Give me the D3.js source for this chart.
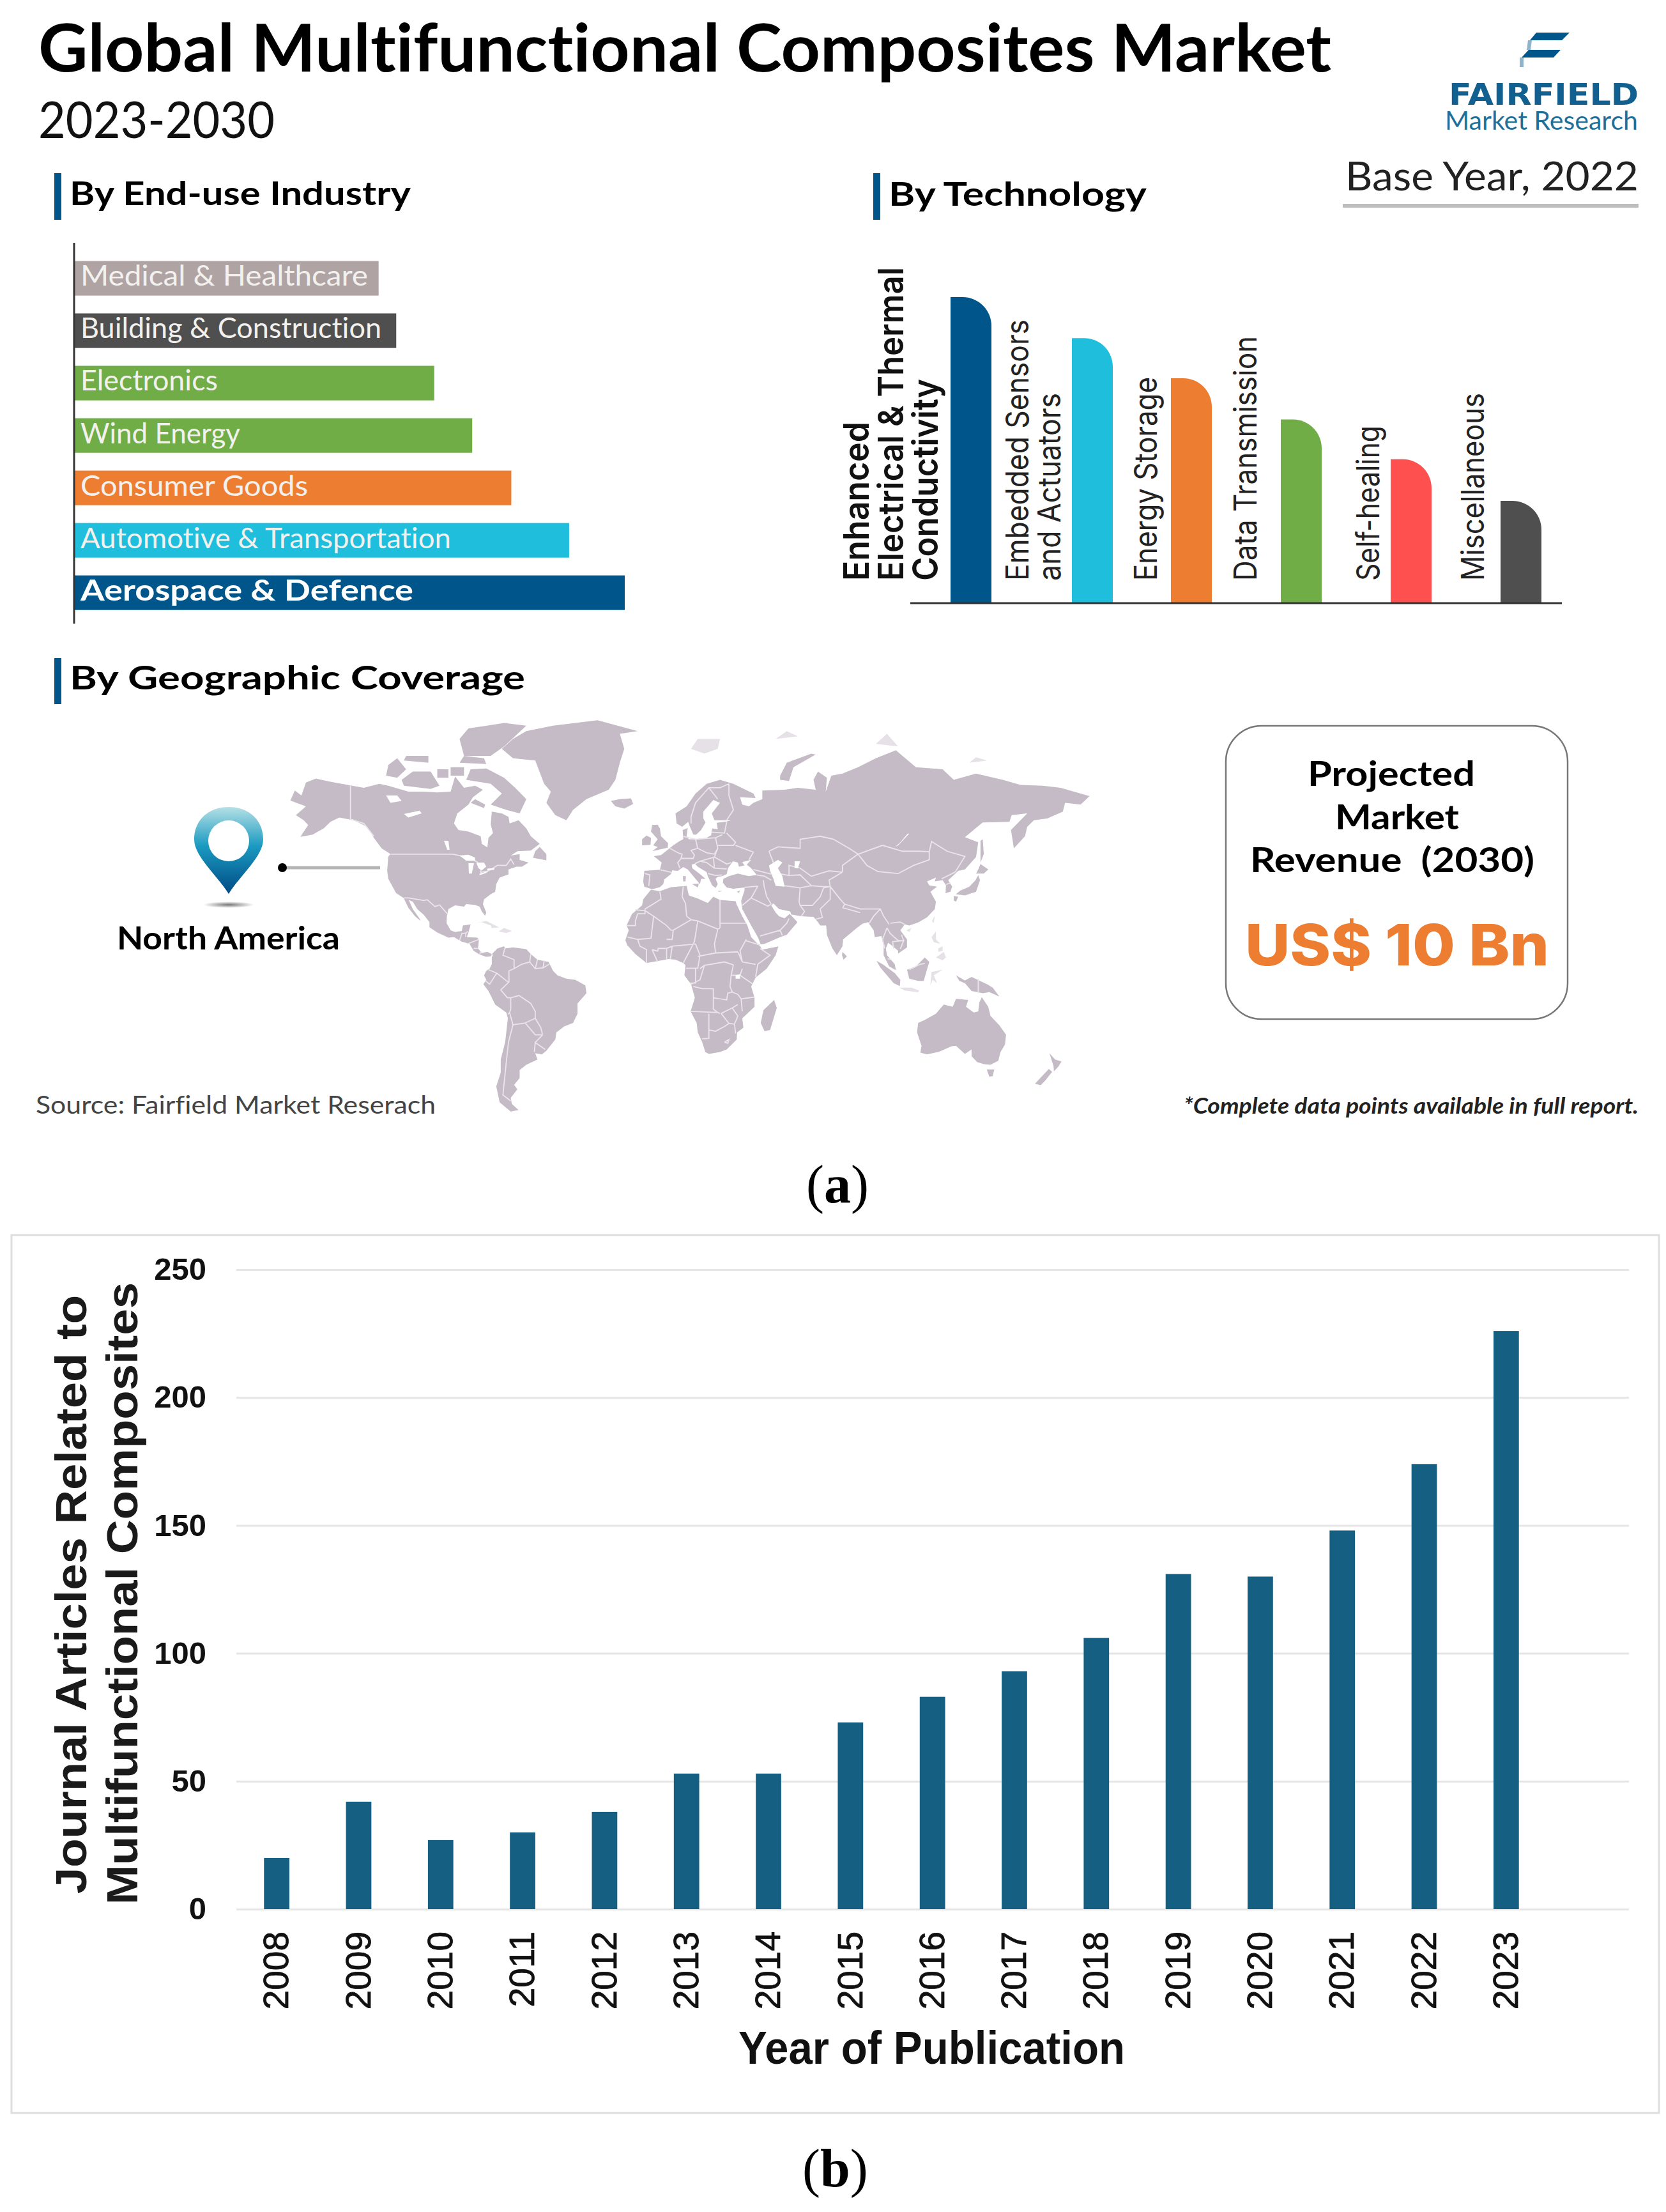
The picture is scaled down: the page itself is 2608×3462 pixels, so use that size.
<!DOCTYPE html>
<html><head><meta charset="utf-8"><title>Multifunctional composites</title>
<script src="https://cdn.jsdelivr.net/npm/d3@7/dist/d3.min.js"></script>
<style>html,body{margin:0;padding:0;background:#fff}svg{display:block}text{font-variant-ligatures:none;font-feature-settings:"liga" 0}</style></head>
<body><svg id="c" width="2608" height="3462"></svg>
<script>
// ---------- data ----------
const endUseIndustries = ["Medical & Healthcare","Building & Construction","Electronics","Wind Energy","Consumer Goods","Automotive & Transportation","Aerospace & Defence"];
const endUseValues = [55.3,58.5,65.4,72.3,79.4,89.9,100];
const endUseColors = ["#b0a3a3","#4f4f4f","#70ad47","#70ad47","#ed7d31","#1fbedc","#00558a"];
const technologies = ["Enhanced Electrical & Thermal Conductivity","Embedded Sensors and Actuators","Energy Storage","Data Transmission","Self-healing","Miscellaneous"];
const technologyLines = [["Enhanced","Electrical & Thermal","Conductivity"],["Embedded Sensors","and Actuators"],["Energy Storage"],["Data Transmission"],["Self-healing"],["Miscellaneous"]];
const technologyValues = [100,86.6,73.5,60,47,33.4];
const technologyColors = ["#00558a","#1fbedc","#ed7d31","#70ad47","#ff5050","#4f4f4f"];
const years = ["2008","2009","2010","2011","2012","2013","2014","2015","2016","2017","2018","2019","2020","2021","2022","2023"];
const articleCounts = [20,42,27,30,38,53,53,73,83,93,106,131,130,148,174,226];
const yTicks = [0,50,100,150,200,250];

// map outlines in [longitude, latitude]
const landNorthAmerica = [[-168,65.6],[-166,68.3],[-163,67],[-161,70.3],[-156.5,71.3],[-150,70.5],[-141,69.6],[-135,69],[-128,70],[-124,69.5],[-115,68],[-108,68],[-102,67.8],[-96,68],[-94,71.8],[-90,69],[-85,69.5],[-81.5,68.5],[-86,66.5],[-88,64.5],[-93,62],[-94.5,59],[-92.5,57],[-88,56.5],[-82.5,55],[-82,52.5],[-79.5,51.3],[-79,54.5],[-77,56],[-78,58.7],[-77.5,62.5],[-73,62],[-70,61],[-69.5,59],[-65.5,60],[-62,57.5],[-60,55],[-56,52.5],[-60,50.2],[-66,50],[-69,48.5],[-65,49],[-65,47],[-61,46],[-64,44.5],[-66.5,44.5],[-70,43.5],[-70,41.7],[-74,40.5],[-75.5,38],[-76,35],[-78,34],[-81,32],[-81.5,30],[-80,26.5],[-80.5,25.2],[-82,27],[-83,29],[-85,29.7],[-89,30],[-90,29],[-94,29.5],[-97,28],[-97.7,25],[-97.8,22],[-96,19],[-94,18.2],[-91,18.7],[-90.5,21],[-87,21.5],[-88,18],[-88.7,16],[-84,15.8],[-83.3,14.8],[-83.7,11],[-82,9],[-79.5,9.5],[-77.5,8.5],[-78,7.5],[-80,7.3],[-83,8.3],[-85.7,10],[-87.5,13],[-91,14],[-94.5,16],[-97,15.8],[-102,18],[-105.5,20.3],[-105.5,22.5],[-108,25.5],[-111,28],[-113,31],[-114.8,31.7],[-113,28],[-110,24],[-109.5,23],[-112,25],[-115,28.5],[-117.1,32.5],[-120.5,34.5],[-124,40],[-124.5,43],[-124,48.2],[-123,49],[-127,51],[-130.5,54.5],[-133.5,58],[-139.5,60],[-146,60.8],[-150,59.5],[-153,57.5],[-158,55.5],[-163.5,54.8],[-160,58.5],[-162,60],[-165.5,61.5],[-161,64],[-168,65.6]];
const landSouthAmerica = [[-77.5,8.5],[-75,11],[-72,12],[-71.5,11],[-68,11.5],[-62,10.7],[-60,8.5],[-57,6],[-52,5],[-50,1],[-48,-1],[-44,-2.5],[-40,-3],[-35.5,-5.5],[-35,-9],[-39,-13.5],[-39,-18],[-41,-22],[-45,-23.5],[-48.5,-26],[-49,-29],[-53,-33.5],[-55,-35],[-58,-34.5],[-57,-37],[-62,-39],[-65,-41],[-65,-44],[-67.5,-46.5],[-66,-48],[-69,-51],[-68.5,-53],[-65.5,-55],[-69,-55.5],[-74,-52.5],[-75.5,-47],[-73.5,-42],[-73.5,-37],[-71.5,-30],[-70.3,-20],[-71,-17.5],[-76,-14],[-79,-8],[-81.3,-5],[-80,-3],[-81,-1],[-80,1],[-78.5,2],[-77.5,4],[-77.5,7]];
const landAfrica = [[-6,35.8],[-2,35.2],[3,36.8],[10,37.3],[11,33.5],[15,32.3],[19.5,30.5],[22,33],[25,31.7],[32,31.2],[32.5,29.8],[35,25],[37.3,21],[39,16],[43,12],[44,10.5],[51.2,11.9],[50,8],[46,2],[41,-2],[39,-6],[40.5,-11],[40.5,-15],[35,-20],[35.5,-24],[32.7,-26],[32.5,-29],[28,-33],[25,-34],[20,-34.8],[18.4,-34],[17,-30],[15,-26],[14.5,-22],[11.8,-17],[13.7,-11],[12,-5],[9,-1],[9.5,3.5],[8.5,4.5],[5,6],[2,6.3],[-4,5.2],[-8,4.5],[-13,8.5],[-16.7,12.5],[-17.5,14.7],[-16,19],[-17,21],[-14.5,26],[-10,29.5],[-9.5,32]];
const landEurasia = [[-5.5,36],[-9,37],[-9.5,39],[-9,43],[-2,43.4],[-1.2,46],[-4.7,48.3],[-1.5,48.7],[1.5,50.5],[4,52],[7,53.5],[8.5,54],[8.2,57],[10.5,57.6],[10,55],[11,54],[14,54],[19,54.5],[21,55.3],[21.5,57.5],[24,57.2],[23.5,59.2],[28,59.6],[30,60],[25,60],[22.5,60],[21.3,62],[25,65],[22,65.8],[17.5,62.5],[17.5,60.5],[18.5,59.3],[16.5,57],[14.3,55.5],[13,55.5],[11.5,58],[10.7,59.5],[8,58],[5.5,59],[5,62],[10,64],[14,67.5],[19,70],[25,71],[31,70],[40,67.5],[41,66.3],[34,66.5],[35,64.5],[38,64],[40,65],[44,66],[44,68.3],[54,68.5],[60,69],[68,68.5],[67,71],[69,73],[73,71.5],[72.5,68],[75,72],[80,72.5],[87,74],[95,76],[104,77.7],[113,74],[125,73.5],[130,71],[140,72.5],[152,71],[160,69.7],[170,69.5],[178,69],[191,66.8],[187,64.5],[180,65],[179,62.5],[172,60.5],[166,60],[163,58],[162,55],[157,51],[155.7,57],[163,62],[156,61.5],[155,59.5],[143,59.3],[135,54.7],[141,53],[140,48],[135,43.5],[132,43],[129.5,41],[127.5,39.5],[129.3,37],[128.5,35],[126.3,34.5],[126.5,37.5],[125,39.5],[121.5,39],[122,40.5],[118,39],[119,37.5],[122.5,37],[119.5,35],[122,31],[121.5,28],[118,24.5],[114,22.3],[110,21],[108,21.5],[106,19],[109,15],[109,11.5],[105,8.7],[105,10],[102,12.5],[100.5,13.5],[99.5,11],[100,8],[103.5,4],[104,1.3],[101,3],[98.5,8],[98.5,12],[97.5,16.5],[94.5,16],[94,19],[91.5,22.5],[89,21.8],[86.5,20],[80.3,15],[80,12],[77.5,8],[75.5,11],[73,17],[72.7,21],[70,21],[69,22.5],[67,24.7],[61.5,25],[57,25.7],[56.5,27],[51.5,28],[49,30.3],[48,29.5],[50,26.5],[51.5,25],[54,24.1],[56.3,26],[59.8,22.5],[55,17],[52,16],[45,13],[43.3,12.8],[42,16],[39,21],[35,28],[34.5,31.3],[36,35.5],[36,36.7],[31,36.2],[28,36.7],[26.3,38.5],[26.5,40],[29,41],[33,42],[38,41],[41.5,41.5],[39,44],[37,45.3],[39,47],[35,46.2],[36,45],[33.5,44.5],[33,46],[30.8,46.5],[28.6,44],[28,41.8],[26,41],[24,40.8],[23,40],[24,38],[23,36.5],[21.5,37.5],[19.5,41],[19,42.5],[15,44.5],[13.7,45.6],[12.3,45.3],[12.5,44],[16,41.8],[18.5,40],[16.5,40],[16,38],[12.5,41.5],[10.5,43.5],[8.5,44.4],[6,43],[3.5,43.2],[3,41.8],[0,39.8],[-0.5,38],[-2,36.8]];
const landAustralia = [[114,-22],[113.5,-26],[115.5,-31.5],[115,-34.3],[118,-35],[123.5,-33.9],[129,-31.7],[131,-31.5],[135,-34.8],[138,-33],[138,-35.7],[140.5,-38],[143.5,-38.8],[146.5,-39],[150,-37.5],[151,-34],[153,-31],[153.5,-27],[150.5,-23],[146.5,-19],[145.5,-15],[142.6,-10.8],[141.5,-13],[141,-17],[139,-17.5],[135.5,-15],[136.5,-12],[131,-11.5],[129.5,-15],[125.5,-14],[122,-18],[117,-20.7]];
const landGreenland = [[-73,78],[-68,76],[-58,75.5],[-54,70],[-51,68],[-53,65],[-49,61.5],[-44,60],[-41,63],[-35,66],[-25,68.5],[-22,71],[-20,75],[-18,78],[-20,81],[-12,81.5],[-30,83.5],[-50,82.5],[-62,81.5],[-68,80]];
const landIslands = [
 [[-62,66],[-65,62],[-71,63],[-78,64.5],[-73,67.5],[-78,70],[-89,71],[-87,73.5],[-80,73.7],[-72,71.5],[-67,69]],
 [[-117,69.5],[-105,68.7],[-101,69.5],[-105,73],[-113,73],[-118,71]],
 [[-125,72],[-120,71.5],[-116,73.5],[-120,76],[-124,74.5]],
 [[-90,76.5],[-78,76.5],[-72,78.5],[-62,82.5],[-72,83],[-88,82],[-92,80]],
 [[-92,75],[-80,74.7],[-81,76],[-90,76.5]],
 [[-117,75.5],[-106,75],[-106,76.5],[-116,76.5]],
 [[-96,72],[-90,72],[-90,74],[-96,74]],
 [[-102,71.5],[-97,71.5],[-97,73.5],[-102,73.5]],
 [[-87,65],[-81,63.5],[-80.5,64.5],[-85,66]],
 [[-59,47.7],[-53,46.8],[-53,49],[-56,51.5],[-58,50]],
 [[49.3,-12],[50.5,-15.5],[47.5,-25],[45,-25.5],[43.3,-22],[44.5,-16.5]],
 [[-5.5,50],[1.5,51.2],[1.7,52.7],[-1.5,55],[-2,57.5],[-3,58.6],[-5.5,58.5],[-6,56.5],[-3,54],[-5,52],[-3,51.4]],
 [[-10,52],[-6.2,52.2],[-6,54.5],[-8,55.2],[-10,54]],
 [[-24,65.5],[-22,64],[-18,63.4],[-14,64.7],[-15,66.2],[-20,66]],
 [[52,71],[56,70.7],[58,74],[68,76.8],[66,77],[55,75],[52,72]],
 [[142,46],[143.5,49],[143,54],[142,53.5],[142,49]],
 [[130.9,34],[135,33.5],[140,35],[141.8,39.5],[141,41.4],[139.8,39.5],[137,37],[133,35.5]],
 [[140,42],[143.5,42],[145.5,43.5],[142,45.5],[141,43.5]],
 [[130,33.3],[132,33],[131,31],[130,31.5]],
 [[80,9.5],[82,7.5],[80.5,6],[79.8,8]],
 [[95.3,5.5],[98,4],[103.5,0],[106,-3],[105.8,-5.8],[103,-4.5],[100,-1],[97,2.5]],
 [[109,1.5],[113,3],[117,7],[119,5],[117.8,1],[116.5,-3.5],[114,-3.5],[110,-2.5]],
 [[131,-1],[135,-3.3],[138,-1.7],[145,-5],[147.5,-6.5],[150.5,-10.5],[146,-8.5],[143,-9],[138,-8],[135,-4.5],[132.5,-3.5]],
 [[144.8,-40.8],[148.2,-40.8],[147.5,-43.3],[146,-43.5]],
 [[173,-34.5],[175.5,-37],[178.4,-37.7],[177,-39.7],[175,-41.5],[174.8,-39.5]],
 [[172.7,-40.6],[174.2,-41.7],[171,-45],[169,-46.6],[166.5,-46],[170,-43]],
 [[12.5,38],[15.5,38.2],[15,36.7]],[[8.3,41],[9.7,41],[9.5,39],[8.5,39]],[[24,35.4],[26,35.2],[24.5,35]],[[32.5,35],[34,35.4],[33.5,34.6]]
];
// islands that the reference shows only as a faint trace
const faintIslands = [
 [[-85,22],[-80,23],[-74.2,20.2],[-77.5,19.9],[-78,21],[-82,22.5]],
 [[-74.4,18.5],[-72,20],[-68.4,18.6],[-71,17.8]],
 [[12,78],[18,77],[24,78],[25,80],[15,80]],
 [[95,79],[105,78.5],[100,81]],[[137,75],[145,75.5],[140,76.2]],[[50,80],[60,80.5],[55,81.5]],
 [[120.2,23],[121.5,25.2],[121,22]],[[108.7,19],[111,20],[110,18.2]],
 [[120,16],[122,18.5],[122,15],[124,13],[121,13.8]],[[122,7],[125.5,9.5],[126.5,7],[125,5.7]],[[123,11],[125,12],[125,10],[123,9.5]],
 [[105.5,-6.5],[111,-6.5],[114.5,-7.8],[114,-8.6],[108,-7.8]],
 [[119.5,-5.5],[120,0.5],[125,1.5],[121,-1],[122.5,-4.5],[120.5,-3]]
];
const waterBodies = [
 [[47,45],[51,47],[53,46],[51,44],[53,41],[54,37],[50,37.3],[49,40],[47.5,43]],
 [[58.5,46.5],[61,46.5],[60,44],[58.5,44]],[[32,-1],[34,-0.5],[34,-2.5],[32,-2.5]],
 [[-92,48.5],[-88,48.8],[-85,47.8],[-85,46.7],[-89,46.7]],[[-88,45.8],[-85.5,45.8],[-86.5,42],[-87.8,42]],
 [[-84.5,46],[-81,46],[-80,44.6],[-82,43.2],[-83.5,44]],[[-83,42],[-79,42.9],[-80,42.2],[-83,41.4]],[[-79.6,43.8],[-76.3,44],[-76.5,43.4],[-79.5,43.2]],
 [[-125,67],[-120,67],[-118,65.5],[-123,65]],[[-117,61.8],[-110,62.8],[-109,62],[-115,60.8]],[[-99,53.5],[-97,53.5],[-96.5,50.5],[-97.5,50.5]],
 [[103.7,51.5],[105,52],[110,55.8],[109.3,55.8],[106,53]]
];
const borders = [
 [[-123,49],[-95,49],[-89,48],[-84.5,46.5],[-82.5,45],[-82.5,42.5],[-79,43],[-75,45],[-71,45],[-69,47.3],[-67.5,45.3]],
 [[-141,69.6],[-141,60.3],[-135,59],[-130.5,55]],
 [[-117.1,32.5],[-114.8,32.5],[-108,31.5],[-106.5,31.8],[-103,29],[-101,29.7],[-97.5,26]],
 [[-92,14.5],[-91,17.5],[-89,17.8],[-88.3,18.5]],[[-89.2,17.8],[-89.2,15.9]],[[-88,13.2],[-83.2,15]],[[-85.7,11],[-83.7,11]],[[-83,8.3],[-82.5,9.5]],[[-77.4,8.7],[-77.2,7.5]],
 [[-71.5,11.5],[-72.5,8],[-67.5,6],[-67.5,2],[-69.8,1],[-69.8,-4.2]],[[-67.5,2],[-64,4],[-60.5,5]],[[-60.5,5],[-60,8.5]],[[-57,6],[-58,2]],[[-54,5.7],[-54.5,2.3]],[[-60.5,5],[-58,2],[-54.5,2.3],[-51.7,4]],
 [[-79,1.5],[-75.3,0],[-70,-4.2]],[[-80.3,-3.5],[-78.5,-5],[-75.3,0]],[[-70,-4.2],[-73.5,-7.5],[-70.5,-11],[-69,-11]],[[-69,-11],[-69,-16],[-69.5,-17.5],[-70.3,-18.3]],[[-69,-11],[-65.3,-10],[-60,-13.5],[-58,-17],[-58,-20]],
 [[-69.5,-17.5],[-68,-22.8]],[[-68,-22.8],[-70,-30],[-71,-38],[-72,-46],[-72.5,-50],[-69,-52]],[[-68,-22.8],[-62.5,-22]],[[-62.5,-22],[-58,-20]],[[-62.5,-22],[-58,-27],[-54.7,-27]],[[-58,-20],[-55.5,-24],[-54.7,-27]],[[-58.4,-34],[-58,-30.2],[-53.5,-33]],[[-54.7,-27],[-58,-30.2]],
 [[-2,35],[-1.5,32],[-8.7,28],[-8.7,27.3]],[[-8.7,27.3],[-13,27.7]],[[-17,21],[-13,21],[-13,23],[-12,26],[-8.7,26],[-8.7,27.3]],[[-8.7,27.3],[-4.8,25],[-6,15.5],[-12,15],[-16.5,16]],[[-4.8,25],[1,21],[3,19],[4,19],[12,23.5]],[[8.5,37],[8,33],[9.5,30.3]],[[9.5,30.3],[10,25],[12,23.5]],[[25,31.7],[25,20]],[[25,20],[24,19.5]],[[24,19.5],[15,23]],[[15,23],[12,23.5]],[[25,22],[36.8,22]],[[24,19.5],[22.5,13],[23,9]],[[15,23],[13.5,14]],[[4,19],[3.5,15],[1,15]],
 [[-5.5,10.5],[-3,9.8],[-2.8,11],[1,11],[3.5,12],[14,13]],[[-12,15],[-11,12],[-8,10.5],[-8,4.5]],[[-5.5,10.5],[-3,5]],[[1,6],[1,11]],[[2.7,6.3],[3.5,12]],[[8.5,4.5],[13.5,14]],[[14,13],[16,8],[15,2.2],[9.8,2.2]],[[15,7.5],[23,9]],[[16,2],[18,3.5],[27,5],[31,3.7]],[[23,9],[33,9.5]],[[33,9.5],[35,5],[41,3.9]],[[36.8,15],[34,10],[35,5]],[[36.5,14.5],[43,12.5]],[[43,11],[47.5,8],[42,4],[41,-1.7]],[[34,-1],[39.5,-4.7]],[[31,3.7],[30,-1],[34,-1],[35,2]],
 [[30,-1],[29.5,-6],[30.5,-8.5],[28.5,-9],[28,-12],[22,-11],[22,-7],[17,-7],[13,-6]],[[9.8,2.2],[14,2.2],[14,-4.5],[11.5,-4.5]],[[18,3.5],[16,-3],[12,-5]],[[11.8,-17],[24,-17.5],[25,-17.9]],[[22,-11],[22,-16],[24,-17.5]],[[34.5,-11.5],[40.5,-10.7]],[[33,-9.5],[34.5,-11.5],[35,-17]],[[30.5,-15.5],[33,-14]],[[25.5,-17.9],[30.5,-15.5],[33,-19],[31.5,-22.5],[29,-22.2],[25.5,-17.9]],[[20,-18],[20,-28.5],[17,-28.7]],[[20,-25],[23,-25.5],[27,-23.5],[29,-22.2]],[[31.5,-22.5],[32,-26.5]],[[27,-30],[29,-29],[28.5,-30.5],[27,-30]],[[30.5,-8.5],[33,-9.5]],
 [[12,59],[12,61],[14,65],[20,69],[25,69],[29,70]],[[24,66],[20,69]],[[28,60],[31,63],[29,67],[29,70]],[[2.5,51],[6,49.5],[8,49],[7.5,47.5],[6,46],[7,44]],[[-1.8,43.4],[3,42.5]],[[-8.8,42],[-6.5,41.5],[-7,37.2]],[[8.5,55],[14,54],[15,51],[12,50.3],[13.5,48.7],[13,47.5],[7.5,47.5]],[[14,54],[23,54.5],[24,51],[22.5,49],[19,49.5],[15,51]],[[21,56.3],[27,56],[28,59.5]],[[23,54.5],[26,55.5]],[[23.5,52],[31,52],[32,53],[28,56]],[[24,51],[22.5,48],[28,45.5],[30,46]],[[32,52],[40,49.7],[38,47]],[[13.7,45.6],[16,46.5],[22.5,48]],[[22,48],[22.5,44],[28,43.7]],[[19.5,42],[23,41.3],[26,41.5]],[[16,46.5],[19,46],[22.5,44]],
 [[36,36.7],[42,37.2]],[[44.5,39.5],[44.8,37.2]],[[40,43.5],[48,41.8]],[[41.5,41.5],[45,41],[48,39.5]],[[42,37.2],[39,32.5],[46.5,29.2],[48,30]],[[44.8,37.2],[46,33],[48,30]],[[35,29.5],[39,32.5]],[[43,16.5],[52,19],[55,22],[56,24]],[[52,19],[53,16.7]],[[61,36.5],[60.5,31],[61,29.5],[63,27],[61.5,25]],[[61,29.5],[66.5,29.5],[70,33],[71.5,36.5],[74.5,37]],[[74.5,37],[74.5,32],[70,28],[71,24.5],[68,23.7]],[[53.8,37.4],[61,36.5],[66,37.4],[71,37],[74.5,37]],
 [[51,42],[56,41.3],[56,45],[61,44],[66,41],[70,42],[74,43],[80,42.5]],[[56,41.3],[61,41.5],[66,37.4]],[[47,50],[51,51.5],[61,51],[61,54],[70,55],[76,54],[83,51],[87,49]],[[87,49],[80,45],[80,42.5]],[[47,50],[49,46]],[[80,42.5],[74,39.5],[74.5,37]],[[87,49],[98,52],[107,50],[114,50],[119,49.8]],[[87,49],[91,45],[96,42.7],[105,42],[112,45],[119,47],[119,49.8]],[[119,49.8],[120,53.3],[127,50],[135,48.2],[131,43],[130.5,42.5]],[[124.5,40],[130.5,42.5]],[[126.5,37.8],[128.5,38.5]],
 [[74.5,37],[79,32],[81,30],[88,28],[97,28],[98.5,25],[101,21.5]],[[81,30],[80.2,28.5],[88,26.5]],[[92,22],[94,25],[97,28]],[[101.5,22],[106,22.5],[108,21.5]],[[100,20],[101.5,17.5],[105,14.5],[107.5,14.5],[106.5,17]],[[100,20],[98,15],[99,11]],[[103,11],[102.5,14],[107.5,14.5],[106,10.8]],[[100.3,6.5],[102,6]],[[110,1.5],[115,4],[117,4.3]],[[141,-2.6],[141,-9]]
];

// ---------- helpers ----------
const svg = d3.select("#c");
const CG = "Lato, 'Open Sans', sans-serif", MS = "Inter, 'Noto Sans', sans-serif", AR = "'Liberation Sans', Arial, sans-serif", TM = "'Liberation Serif', 'Times New Roman', serif";
function label(parent, str, x, y, o = {}) {
  const t = parent.append("text").attr("x", x).attr("y", y).text(str)
    .attr("font-family", o.font || CG).attr("font-size", o.size || 40).attr("font-weight", o.weight || 400)
    .attr("fill", o.fill || "#000").attr("text-anchor", o.anchor || "start");
  if (o.style) t.attr("font-style", o.style);
  if (o.width) t.attr("textLength", o.width).attr("lengthAdjust", "spacingAndGlyphs");
  if (o.rotate) t.attr("transform", `rotate(${o.rotate} ${x} ${y})`);
  return t;
}
function heading(text, barTop, barBottom, barX, textX, baseY, width) {
  svg.append("rect").attr("x", barX).attr("y", barTop).attr("width", 11).attr("height", barBottom - barTop).attr("fill", "#00558a");
  label(svg, text, textX, baseY, {size: 52, weight: 700, width});
}

// ---------- header ----------
label(svg, "Global Multifunctional Composites Market", 60, 112, {size: 104, weight: 700, width: 2024});
label(svg, "2023-2030", 60, 216, {size: 80, weight: 400, width: 370, fill: "#111"});
// logo
const logo = svg.append("g").attr("fill", "#00558a");
logo.append("polygon").attr("points", "2405,51 2457,51 2445,63 2395,63");
logo.append("polygon").attr("points", "2393,78 2443,78 2432,90 2382,90");
logo.append("polygon").attr("points", "2392,63 2398,63 2396,78 2390,78").attr("fill", "#8fb4cc");
logo.append("polygon").attr("points", "2379,90 2385,90 2385,105 2379,105").attr("fill", "#8fb4cc");
label(svg, "FAIRFIELD", 2268, 164, {font: "'DejaVu Sans', sans-serif", size: 46, weight: 700, width: 297, fill: "#11608f"});
label(svg, "Market Research", 2262, 203, {size: 41, width: 302, fill: "#1f7099"});
label(svg, "Base Year, 2022", 2106, 298, {size: 61, width: 459, fill: "#222"});
svg.append("rect").attr("x", 2102).attr("y", 319).attr("width", 463).attr("height", 6).attr("fill", "#bdbdbd");

// ---------- by end-use ----------
heading("By End-use Industry", 271, 344, 85, 109, 321, 534);
const xEnd = d3.scaleLinear().domain([0, 100]).range([116, 978]);
const yEnd = d3.scaleBand().domain(endUseIndustries).range([380.6, 982.6]).padding(0.34);
svg.append("g").selectAll("rect").data(endUseIndustries).join("rect")
  .attr("x", xEnd(0)).attr("y", d => yEnd(d)).attr("height", yEnd.bandwidth())
  .attr("width", (d, i) => xEnd(endUseValues[i]) - xEnd(0)).attr("fill", (d, i) => endUseColors[i]);
svg.append("line").attr("x1", 116).attr("x2", 116).attr("y1", 380).attr("y2", 976).attr("stroke", "#333").attr("stroke-width", 3);
const endWidths = [450, 471, 215, 250, 356, 580, 521];
const endG = svg.append("g");
endUseIndustries.forEach((d, i) => label(endG, d, 126, yEnd(d) + yEnd.bandwidth() * 0.72, {
  size: i === 6 ? 46 : 44, weight: i === 6 ? 700 : 400, width: endWidths[i], fill: i === 6 ? "#fff" : "#f3f1ee"}));

// ---------- by technology ----------
heading("By Technology", 271, 344, 1367, 1391, 322, 404);
const xTech = d3.scaleOrdinal().domain(technologies).range([1488, 1678, 1833, 2005, 2177, 2349]);
const yTech = d3.scaleLinear().domain([0, 100]).range([944, 465]);
const techW = 64, techR = 45;
svg.append("g").selectAll("path").data(technologies).join("path")
  .attr("fill", (d, i) => technologyColors[i])
  .attr("d", (d, i) => {
    const p = d3.path(), x = xTech(d), y = yTech(technologyValues[i]);
    p.moveTo(x, yTech(0)); p.lineTo(x, y); p.lineTo(x + techW - techR, y);
    p.arcTo(x + techW, y, x + techW, y + techR, techR); p.lineTo(x + techW, yTech(0)); p.closePath();
    return p.toString();
  });
svg.append("line").attr("x1", 1425).attr("x2", 2445).attr("y1", 944).attr("y2", 944).attr("stroke", "#333").attr("stroke-width", 3);
const techBase = [[1360, 1414, 1468], [1610, 1660], [1811], [1967], [2159], [2323]];
const techLen = [[249, 491, 316], [409, 294], [319], [383], [243], [294]];
technologies.forEach((d, i) => technologyLines[i].forEach((ln, j) =>
  label(svg, ln, techBase[i][j], 909, {font: MS, size: i ? 49 : 55, weight: i ? 400 : 600, rotate: -90, width: techLen[i][j], fill: i ? "#222" : "#111"})));

// ---------- geographic coverage ----------
heading("By Geographic Coverage", 1030, 1102, 85, 109, 1079, 713);
const lonX = d3.scaleLinear().domain([0, 1]).range([1040, 1043.485]);
const miller = lat => 1.25 * Math.log(Math.tan(Math.PI / 4 + 0.4 * lat * Math.PI / 180));
const latY = d3.scaleLinear().domain([0, 1]).range([1523, 1323]);
const mapTransform = d3.geoTransform({point(lon, lat) { this.stream.point(lonX(lon), latY(miller(lat))); }});
const geoPath = d3.geoPath(mapTransform);
const closed = r => r[0][0] === r[r.length - 1][0] && r[0][1] === r[r.length - 1][1] ? r : [...r, r[0]];
const landRings = [landNorthAmerica, landSouthAmerica, landAfrica, landEurasia, landAustralia, landGreenland, ...landIslands];
const map = svg.append("g");
map.append("path").datum({type: "MultiPolygon", coordinates: faintIslands.map(r => [closed(r)])}).attr("d", geoPath).attr("fill", "#e6e1e7");
map.append("path").datum({type: "MultiPolygon", coordinates: landRings.map(r => [closed(r)])}).attr("d", geoPath).attr("fill", "#c5bbc6");
map.append("path").datum({type: "MultiLineString", coordinates: borders}).attr("d", geoPath).attr("fill", "none").attr("stroke", "#e9e5ea").attr("stroke-width", 1.8);
map.append("path").datum({type: "MultiPolygon", coordinates: waterBodies.map(r => [closed(r)])}).attr("d", geoPath).attr("fill", "#fff");

// pin
const defs = svg.append("defs");
const grad = defs.append("linearGradient").attr("id", "pin").attr("x1", 0).attr("x2", 0).attr("y1", 0).attr("y2", 1);
[[0, "#b5e0e6"], [0.45, "#1a9ac0"], [1, "#004a85"]].forEach(s => grad.append("stop").attr("offset", s[0]).attr("stop-color", s[1]));
const shadow = defs.append("radialGradient").attr("id", "pinShadow");
[[0, "#777"], [1, "#fff"]].forEach(s => shadow.append("stop").attr("offset", s[0]).attr("stop-color", s[1]));
const pin = d3.path();
pin.moveTo(358, 1399); pin.bezierCurveTo(340, 1370, 304, 1340, 304, 1314); pin.bezierCurveTo(304, 1282, 328, 1263, 358, 1263);
pin.bezierCurveTo(388, 1263, 412, 1282, 412, 1314); pin.bezierCurveTo(412, 1340, 376, 1370, 358, 1399); pin.closePath();
svg.append("path").attr("d", pin.toString()).attr("fill", "url(#pin)");
svg.append("ellipse").attr("cx", 358).attr("cy", 1316).attr("rx", 32).attr("ry", 32).attr("fill", "#fff");
svg.append("ellipse").attr("cx", 358).attr("cy", 1416).attr("rx", 40).attr("ry", 5).attr("fill", "url(#pinShadow)");
svg.append("line").attr("x1", 448).attr("x2", 595).attr("y1", 1358).attr("y2", 1358).attr("stroke", "#b5b5b5").attr("stroke-width", 5);
svg.append("circle").attr("cx", 442).attr("cy", 1358).attr("r", 7).attr("fill", "#000");
label(svg, "North America", 183, 1486, {size: 50, weight: 700, width: 349});
label(svg, "Source: Fairfield Market Reserach", 56, 1743, {size: 38, width: 626, fill: "#444"});

// box
svg.append("rect").attr("x", 1919).attr("y", 1136).attr("width", 535).attr("height", 459).attr("rx", 56).attr("ry", 56).attr("fill", "#fff").attr("stroke", "#777").attr("stroke-width", 2.5);
label(svg, "Projected", 2047, 1230, {size: 54, weight: 700, width: 262});
label(svg, "Market", 2090, 1298, {size: 54, weight: 700, width: 194});
label(svg, "Revenue  (2030)", 1957, 1365, {size: 54, weight: 700, width: 445}).style("white-space", "pre");
label(svg, "US$ 10 Bn", 1949, 1511, {font: MS, size: 90, weight: 800, width: 476, fill: "#ed7d31"});
label(svg, "*Complete data points available in full report.", 1853, 1743, {size: 34, weight: 700, style: "italic", width: 712, fill: "#222"});

// captions
function caption(letter, x, y) {
  const t = svg.append("text").attr("x", x).attr("y", y).attr("font-family", TM).attr("font-size", 84).attr("fill", "#000");
  t.append("tspan").text("(");
  t.append("tspan").attr("font-weight", 700).text(letter);
  t.append("tspan").text(")");
}
caption("a", 1262, 1882);
caption("b", 1256, 3422);

// ---------- panel b ----------
svg.append("rect").attr("x", 18).attr("y", 1933).attr("width", 2579).attr("height", 1374).attr("fill", "#fff").attr("stroke", "#dedede").attr("stroke-width", 3);
const xB = d3.scaleBand().domain(years).range([369, 2422]).paddingInner(0.69).paddingOuter(0.345);
const yB = d3.scaleLinear().domain([0, 250]).range([2988, 1987]);
const yAxis = svg.append("g").attr("transform", "translate(370,0)")
  .call(d3.axisLeft(yB).tickValues(yTicks).tickSize(-2180).tickPadding(47));
yAxis.select(".domain").remove();
yAxis.selectAll("line").attr("stroke", "#e5e5e5").attr("stroke-width", 3);
yAxis.selectAll("text").attr("font-family", AR).attr("font-size", 49).attr("font-weight", 700).attr("fill", "#111");
svg.append("g").selectAll("rect").data(years).join("rect")
  .attr("x", d => xB(d)).attr("width", xB.bandwidth())
  .attr("y", (d, i) => yB(articleCounts[i])).attr("height", (d, i) => yB(0) - yB(articleCounts[i]))
  .attr("fill", "#156082");
const xAxis = svg.append("g").attr("transform", "translate(0,2988)").call(d3.axisBottom(xB).tickSize(0));
xAxis.select(".domain").remove();
xAxis.selectAll("text").attr("font-family", AR).attr("font-size", 55).attr("fill", "#111").attr("stroke", "#111").attr("stroke-width", 0.8)
  .attr("transform", "rotate(-90)").attr("x", -35).attr("y", 0).attr("dy", "0.33em").attr("text-anchor", "end");
label(svg, "Year of Publication", 1156, 3230, {font: AR, size: 72, weight: 700, width: 605, fill: "#111"});
label(svg, "Journal Articles Related to", 135, 2964, {font: AR, size: 68, weight: 700, rotate: -90, width: 937, fill: "#1a1a1a"});
label(svg, "Multifunctional Composites", 215, 2981, {font: AR, size: 68, weight: 700, rotate: -90, width: 974, fill: "#1a1a1a"});
</script></body></html>
